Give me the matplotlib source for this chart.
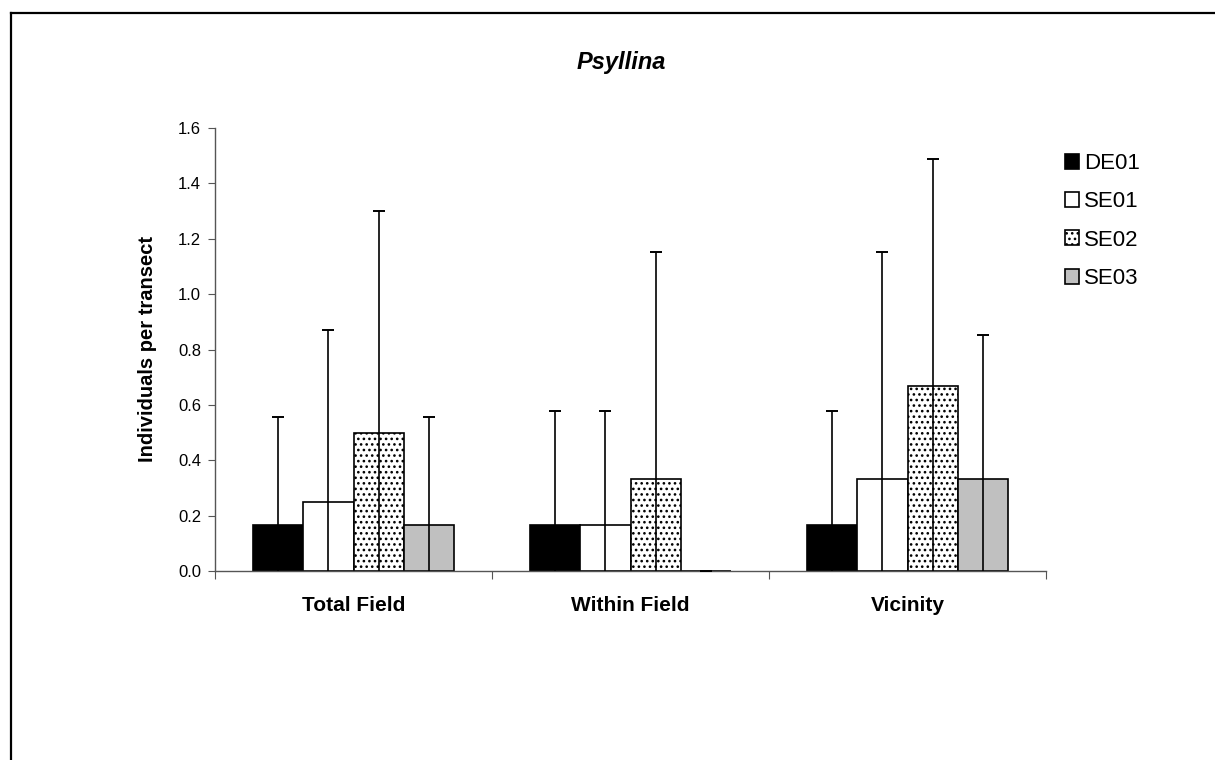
import numpy as np
import matplotlib.pyplot as plt
from matplotlib.lines import Line2D

plt.rcParams['font.family'] = ['Liberation Sans', 'DejaVu Sans']
plt.rcParams['hatch.color'] = '#555555'
plt.rcParams['hatch.linewidth'] = 1.1

# --- data ---
categories = ["Total Field", "Within Field", "Vicinity"]
sites = ["DE01", "SE01", "SE02", "SE03"]
means = {
    "DE01": [0.1667, 0.1667, 0.1667],
    "SE01": [0.25, 0.1667, 0.3333],
    "SE02": [0.5, 0.3333, 0.6667],
    "SE03": [0.1667, 0.0, 0.3333],
}
errors = {
    "DE01": [0.39, 0.41, 0.41],
    "SE01": [0.62, 0.41, 0.82],
    "SE02": [0.80, 0.82, 0.82],
    "SE03": [0.39, 0.0, 0.52],
}
face = {"DE01": "black", "SE01": "white", "SE02": "white", "SE03": "#c0c0c0"}
hatch = {"DE01": None, "SE01": None, "SE02": "...", "SE03": None}

fig = plt.figure(figsize=(12.15, 7.6), dpi=100)
ax = fig.add_axes([215 / 1215, 1 - 571 / 760, 831 / 1215, 443 / 760])

x = np.arange(len(categories))
width = 0.182
for i, s in enumerate(sites):
    pos = x + (i - 1.5) * width
    m = np.array(means[s])
    top = m + np.array(errors[s])
    ax.bar(pos, m, width, color=face[s], edgecolor='black',
           linewidth=1.2, hatch=hatch[s], label=s, zorder=2)
    # error whiskers run from the baseline up through the bar, capped on top only
    ax.vlines(pos, 0, top, color='black', linewidth=1.2, zorder=3)
    ax.plot(pos, top, linestyle='none', marker='_', markersize=8,
            markeredgewidth=1.4, color='black', zorder=3, clip_on=False)

ax.set_xlim(-0.5, 2.5)
ax.set_ylim(0, 1.6)
ticks = np.arange(0, 1.61, 0.2)
ax.set_yticks(ticks)
ax.set_yticklabels([f"{v:.1f}" for v in ticks], fontsize=12)
ax.set_xticks([-0.5, 0.5, 1.5, 2.5])
ax.set_xticklabels([])
ax.set_xticks(x, minor=True)
ax.set_xticklabels(categories, minor=True, fontsize=15, fontweight='bold')
ax.tick_params(axis='x', which='minor', length=0, pad=18)
ax.tick_params(axis='x', which='major', direction='out', length=6, color='#555555')
ax.tick_params(axis='y', direction='out', length=5, color='#555555', pad=5)

for side in ['top', 'right']:
    ax.spines[side].set_visible(False)
for side in ['left', 'bottom']:
    ax.spines[side].set_color('#555555')
    ax.spines[side].set_linewidth(1.0)

ax.set_ylabel("Individuals per transect", fontsize=14.5, fontweight='bold', labelpad=15)

fig.text(621 / 1215, 1 - 62 / 760, "Psyllina", ha='center', va='center',
         fontsize=17, fontweight='bold', style='italic')

handles, labels = ax.get_legend_handles_labels()
fig.legend(handles, labels, loc='upper left', bbox_to_anchor=(1045 / 1215, 1 - 133 / 760),
           frameon=False, fontsize=16, handlelength=0.65, handleheight=0.65,
           handletextpad=0.2, labelspacing=0.78)

# frame lines across top and left of the figure
fig.add_artist(Line2D([11 / 1215, 1], [1 - 13 / 760, 1 - 13 / 760],
                      transform=fig.transFigure, color='black', linewidth=1.6))
fig.add_artist(Line2D([11 / 1215, 11 / 1215], [0, 1 - 13 / 760],
                      transform=fig.transFigure, color='black', linewidth=1.6))

fig.savefig("out.png", dpi=100)
